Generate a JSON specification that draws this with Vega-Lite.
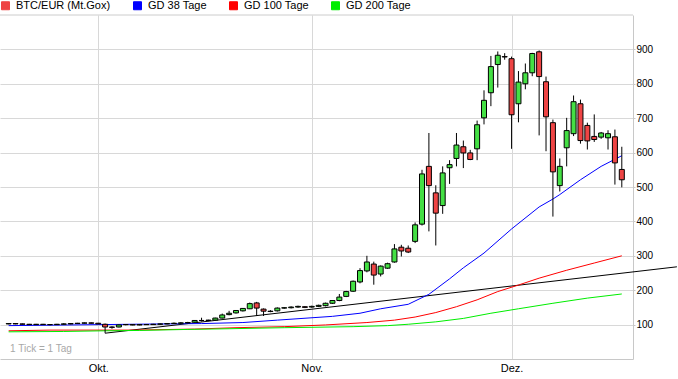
{
  "$schema": "https://vega.github.io/schema/vega-lite/v6.json",
  "width": 633,
  "height": 344,
  "autosize": "none",
  "padding": {"left": 0, "top": 15, "right": 45, "bottom": 20},
  "background": "white",
  "config": {"view": {"stroke": null}, "font": "Liberation Sans"},
  "datasets": {
    "candles": [
      {"i":0,"o":102,"h":104,"l":101,"c":103},{"i":1,"o":103,"h":104,"l":101,"c":102},{"i":2,"o":102,"h":103,"l":100,"c":101},{"i":3,"o":101,"h":102,"l":99,"c":100},{"i":4,"o":100,"h":102,"l":99,"c":101},{"i":5,"o":101,"h":102,"l":99,"c":100},{"i":6,"o":100,"h":101,"l":98,"c":100},{"i":7,"o":100,"h":102,"l":99,"c":101},{"i":8,"o":101,"h":104,"l":100,"c":102},{"i":9,"o":102,"h":104,"l":101,"c":103},
      {"i":10,"o":103,"h":105,"l":102,"c":104},{"i":11,"o":104,"h":106,"l":103,"c":105},{"i":12,"o":105,"h":106,"l":103,"c":104},{"i":13,"o":104,"h":105,"l":102,"c":102},{"i":14,"o":101,"h":103,"l":75,"c":93},{"i":15,"o":93,"h":95,"l":88,"c":92},{"i":16,"o":93,"h":100,"l":92,"c":99},{"i":17,"o":100,"h":101,"l":98,"c":100},{"i":18,"o":100,"h":101,"l":98,"c":99},{"i":19,"o":99,"h":101,"l":98,"c":100},
      {"i":20,"o":100,"h":101,"l":99,"c":100},{"i":21,"o":100,"h":102,"l":99,"c":101},{"i":22,"o":101,"h":103,"l":100,"c":102},{"i":23,"o":102,"h":104,"l":101,"c":103},{"i":24,"o":103,"h":106,"l":102,"c":104},{"i":25,"o":104,"h":107,"l":103,"c":105},{"i":26,"o":105,"h":108,"l":104,"c":106},{"i":27,"o":107,"h":113,"l":106,"c":112},{"i":28,"o":112,"h":120,"l":109,"c":112},{"i":29,"o":112,"h":114,"l":110,"c":113},
      {"i":30,"o":113,"h":120,"l":112,"c":119},{"i":31,"o":119,"h":132,"l":118,"c":128},{"i":32,"o":129,"h":140,"l":127,"c":133},{"i":33,"o":134,"h":142,"l":132,"c":141},{"i":34,"o":140,"h":148,"l":138,"c":147},{"i":35,"o":146,"h":164,"l":145,"c":161},{"i":36,"o":163,"h":166,"l":125,"c":148},{"i":37,"o":145,"h":147,"l":125,"c":139},{"i":38,"o":139,"h":142,"l":136,"c":138},{"i":39,"o":140,"h":150,"l":138,"c":148},
      {"i":40,"o":148,"h":151,"l":146,"c":149},{"i":41,"o":149,"h":153,"l":147,"c":151},{"i":42,"o":151,"h":155,"l":149,"c":153},{"i":43,"o":152,"h":154,"l":148,"c":150},{"i":44,"o":151,"h":155,"l":149,"c":153},{"i":45,"o":153,"h":158,"l":151,"c":156},{"i":46,"o":155,"h":164,"l":153,"c":162},{"i":47,"o":162,"h":171,"l":160,"c":170},{"i":48,"o":170,"h":189,"l":168,"c":180},{"i":49,"o":182,"h":198,"l":180,"c":196},
      {"i":50,"o":197,"h":228,"l":195,"c":226},{"i":51,"o":224,"h":264,"l":220,"c":257},{"i":52,"o":256,"h":300,"l":252,"c":282},{"i":53,"o":276,"h":283,"l":216,"c":244},{"i":54,"o":247,"h":272,"l":240,"c":270},{"i":55,"o":264,"h":280,"l":262,"c":277},{"i":56,"o":282,"h":334,"l":280,"c":320},{"i":57,"o":325,"h":332,"l":298,"c":314},{"i":58,"o":322,"h":330,"l":308,"c":311},{"i":59,"o":342,"h":397,"l":337,"c":390},
      {"i":60,"o":392,"h":550,"l":388,"c":538},{"i":61,"o":560,"h":657,"l":371,"c":504},{"i":62,"o":483,"h":505,"l":330,"c":424},{"i":63,"o":446,"h":560,"l":422,"c":541},{"i":64,"o":556,"h":578,"l":509,"c":565},{"i":65,"o":583,"h":657,"l":560,"c":622},{"i":66,"o":617,"h":635,"l":555,"c":599},{"i":67,"o":599,"h":608,"l":578,"c":580},{"i":68,"o":611,"h":693,"l":578,"c":681},{"i":69,"o":701,"h":781,"l":682,"c":752},
      {"i":70,"o":774,"h":881,"l":735,"c":850},{"i":71,"o":856,"h":894,"l":789,"c":883},{"i":72,"o":879,"h":889,"l":870,"c":878},{"i":73,"o":873,"h":879,"l":611,"c":710},{"i":74,"o":742,"h":837,"l":688,"c":805},{"i":75,"o":800,"h":859,"l":784,"c":832},{"i":76,"o":832,"h":890,"l":822,"c":888},{"i":77,"o":893,"h":897,"l":650,"c":821},{"i":78,"o":806,"h":821,"l":604,"c":704},{"i":79,"o":687,"h":696,"l":414,"c":544},
      {"i":80,"o":504,"h":583,"l":487,"c":560},{"i":81,"o":614,"h":701,"l":560,"c":664},{"i":82,"o":655,"h":766,"l":648,"c":748},{"i":83,"o":742,"h":754,"l":626,"c":635},{"i":84,"o":679,"h":687,"l":609,"c":634},{"i":85,"o":647,"h":711,"l":631,"c":638},{"i":86,"o":645,"h":660,"l":640,"c":657},{"i":87,"o":643,"h":665,"l":609,"c":655},{"i":88,"o":646,"h":667,"l":507,"c":570},{"i":89,"o":551,"h":617,"l":499,"c":521}
    ],
    "ma": [
      {"i":0,"s":"GD 38 Tage","v":97},{"i":18,"s":"GD 38 Tage","v":101},{"i":28,"s":"GD 38 Tage","v":103},{"i":34,"s":"GD 38 Tage","v":106},{"i":39,"s":"GD 38 Tage","v":113},{"i":47,"s":"GD 38 Tage","v":124},{"i":51,"s":"GD 38 Tage","v":133},{"i":54,"s":"GD 38 Tage","v":146},{"i":58,"s":"GD 38 Tage","v":159},{"i":61,"s":"GD 38 Tage","v":188},{"i":64,"s":"GD 38 Tage","v":233},{"i":66,"s":"GD 38 Tage","v":265},{"i":69,"s":"GD 38 Tage","v":308},{"i":73,"s":"GD 38 Tage","v":378},{"i":77,"s":"GD 38 Tage","v":442},{"i":79,"s":"GD 38 Tage","v":465},{"i":80,"s":"GD 38 Tage","v":478},{"i":83,"s":"GD 38 Tage","v":521},{"i":86,"s":"GD 38 Tage","v":560},{"i":89,"s":"GD 38 Tage","v":591},
      {"i":0,"s":"GD 100 Tage","v":82},{"i":6,"s":"GD 100 Tage","v":84},{"i":18,"s":"GD 100 Tage","v":84},{"i":27,"s":"GD 100 Tage","v":87},{"i":33,"s":"GD 100 Tage","v":91},{"i":40,"s":"GD 100 Tage","v":94},{"i":46,"s":"GD 100 Tage","v":99},{"i":52,"s":"GD 100 Tage","v":106},{"i":56,"s":"GD 100 Tage","v":113},{"i":59,"s":"GD 100 Tage","v":122},{"i":62,"s":"GD 100 Tage","v":135},{"i":65,"s":"GD 100 Tage","v":152},{"i":68,"s":"GD 100 Tage","v":172},{"i":71,"s":"GD 100 Tage","v":196},{"i":74,"s":"GD 100 Tage","v":215},{"i":77,"s":"GD 100 Tage","v":235},{"i":81,"s":"GD 100 Tage","v":258},{"i":85,"s":"GD 100 Tage","v":279},{"i":89,"s":"GD 100 Tage","v":300},
      {"i":0,"s":"GD 200 Tage","v":79},{"i":8,"s":"GD 200 Tage","v":80},{"i":14,"s":"GD 200 Tage","v":82},{"i":19,"s":"GD 200 Tage","v":83},{"i":26,"s":"GD 200 Tage","v":86},{"i":32,"s":"GD 200 Tage","v":88},{"i":40,"s":"GD 200 Tage","v":91},{"i":50,"s":"GD 200 Tage","v":94},{"i":55,"s":"GD 200 Tage","v":97},{"i":58,"s":"GD 200 Tage","v":101},{"i":62,"s":"GD 200 Tage","v":108},{"i":66,"s":"GD 200 Tage","v":118},{"i":70,"s":"GD 200 Tage","v":133},{"i":74,"s":"GD 200 Tage","v":146},{"i":79,"s":"GD 200 Tage","v":162},{"i":84,"s":"GD 200 Tage","v":177},{"i":89,"s":"GD 200 Tage","v":189}
    ],
    "trend": [{"i":14,"v":75},{"i":97,"v":268}],
    "note": [{"i":0.2,"v":28,"t":"1 Tick = 1 Tag"}]
  },
  "layer": [
    {
      "data": {"values": [{"v": 1000}]},
      "mark": {"type": "rule", "color": "#cccccc", "strokeWidth": 1},
      "encoding": {"y": {"field": "v", "type": "quantitative"}}
    },
    {
      "data": {"name": "trend"},
      "mark": {"type": "line", "color": "black", "strokeWidth": 1, "clip": false},
      "encoding": {
        "x": {"field": "i", "type": "quantitative"},
        "y": {"field": "v", "type": "quantitative"}
      }
    },
    {
      "data": {"name": "ma"},
      "mark": {"type": "line", "strokeWidth": 1},
      "encoding": {
        "x": {"field": "i", "type": "quantitative"},
        "y": {"field": "v", "type": "quantitative"},
        "color": {
          "field": "s", "type": "nominal",
          "scale": {"domain": ["BTC/EUR (Mt.Gox)", "GD 38 Tage", "GD 100 Tage", "GD 200 Tage"], "range": ["#ee4444", "#0000ff", "#ff0000", "#00ee00"]},
          "legend": {
            "orient": "none", "legendX": 0, "legendY": -15, "direction": "horizontal", "columns": 4,
            "title": null, "padding": 0, "symbolType": "square", "symbolSize": 64,
            "symbolStrokeColor": "black", "symbolStrokeWidth": 1, "labelFontSize": 11,
            "labelColor": "black", "labelFont": "Liberation Sans", "labelOffset": 5, "columnPadding": 20,
            "encode": {"symbols": {"update": {"fill": {"scale": "color", "field": "value"}, "stroke": {"value": "black"}, "strokeWidth": {"value": 1}, "opacity": {"value": 1}}}}
          }
        }
      }
    },
    {
      "data": {"name": "candles"},
      "mark": {"type": "rule", "color": "black", "strokeWidth": 1},
      "encoding": {
        "x": {"field": "i", "type": "quantitative"},
        "y": {"field": "l", "type": "quantitative"},
        "y2": {"field": "h"}
      }
    },
    {
      "data": {"name": "candles"},
      "mark": {"type": "bar", "width": 5, "stroke": "black", "strokeWidth": 1},
      "encoding": {
        "x": {
          "field": "i", "type": "quantitative",
          "scale": {"domain": [-0.53, 89.9], "nice": false, "zero": false},
          "axis": {
            "orient": "bottom", "values": [13, 44, 73], "title": null,
            "labelExpr": "datum.value == 13 ? 'Okt.' : datum.value == 44 ? 'Nov.' : 'Dez.'",
            "grid": true, "gridColor": "#d8d8d8", "domainColor": "#c8c8c8", "ticks": false,
            "labelFontSize": 11, "labelColor": "black", "labelPadding": 3, "labelFlush": false, "labelFont": "Liberation Sans"
          }
        },
        "y": {
          "field": "o", "type": "quantitative",
          "scale": {"domain": [0, 1000], "nice": false, "zero": true},
          "axis": {
            "orient": "right", "values": [100, 200, 300, 400, 500, 600, 700, 800, 900], "title": null,
            "grid": true, "gridColor": "#d8d8d8", "domainColor": "#c8c8c8", "tickColor": "#c8c8c8", "tickSize": 2,
            "labelFontSize": 10, "labelColor": "black", "labelPadding": 1, "labelFont": "Liberation Sans"
          }
        },
        "y2": {"field": "c"},
        "fill": {
          "condition": {"test": "datum.c >= datum.o", "value": "#44e044"},
          "value": "#ee4444"
        }
      }
    },
    {
      "data": {"name": "note"},
      "mark": {"type": "text", "align": "left", "baseline": "middle", "fontSize": 10, "color": "#a8a8a8", "font": "Liberation Sans"},
      "encoding": {
        "x": {"field": "i", "type": "quantitative"},
        "y": {"field": "v", "type": "quantitative"},
        "text": {"field": "t"}
      }
    }
  ]
}
